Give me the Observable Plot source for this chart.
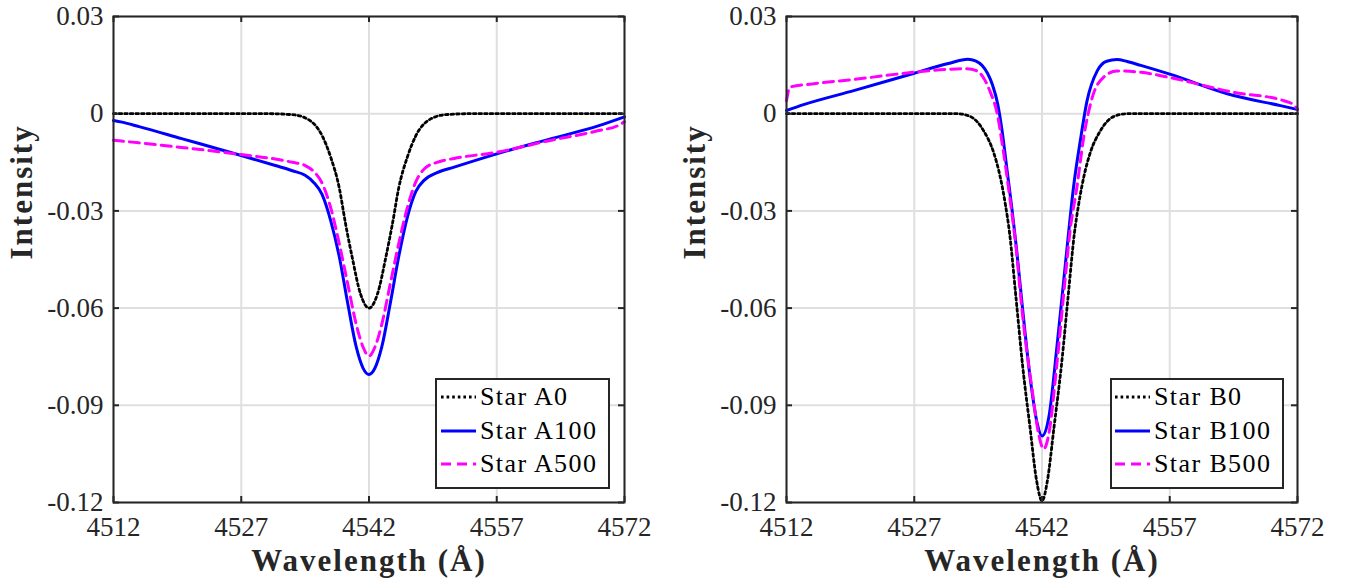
<!DOCTYPE html>
<html><head><meta charset="utf-8">
<script src="https://cdn.jsdelivr.net/npm/d3@7"></script>
<script src="https://cdn.jsdelivr.net/npm/@observablehq/plot@0.6"></script>
<style>
body{margin:0;background:#fff;}
#wrap{position:relative;width:1352px;height:583px;overflow:hidden;font-family:"Liberation Serif",serif;background:#fff;}
#wrap svg, #wrap svg text{font-family:"Liberation Serif",serif !important;}
.panel{position:absolute;top:0;}
.legend{position:absolute;background:#fff;border:2px solid #262626;box-sizing:border-box;font-size:26px;color:#000;font-family:"Liberation Serif",serif;}
.legend .row{position:absolute;left:0;height:34px;line-height:34px;white-space:nowrap;}
.legend svg{position:absolute;top:0;}
.legend span{position:absolute;top:0;letter-spacing:1.4px;}
</style></head><body><div id="wrap"></div><script>
const xTicks = [4512, 4527, 4542, 4557, 4572];
const yTicks = [-0.12, -0.09, -0.06, -0.03, 0, 0.03];

const wA0 = [4512, 4520, 4530, 4533, 4535, 4536.5, 4537.5, 4538.5, 4539.25, 4540, 4541, 4542, 4543, 4544, 4544.75, 4545.5, 4546.5, 4547.5, 4549, 4551, 4554, 4564, 4572];
const A0 = [0, 0, 0, -0.0003, -0.002, -0.0068, -0.0134, -0.0228, -0.034, -0.044, -0.0556, -0.060, -0.0556, -0.044, -0.034, -0.0228, -0.0134, -0.0068, -0.002, -0.0003, 0, 0, 0];

const wA100 = [4512, 4513, 4515, 4520, 4527, 4531, 4533, 4534.5, 4535.5, 4536.5, 4537.5, 4538.5, 4539.5, 4540.5, 4541.3, 4542, 4542.7, 4543.5, 4544.5, 4545.5, 4546.5, 4547.5, 4548.5, 4550, 4552, 4557, 4563, 4569, 4572];
const A100 = [-0.0021, -0.0026, -0.0040, -0.0077, -0.0129, -0.0160, -0.0176, -0.0190, -0.0212, -0.0250, -0.0330, -0.0440, -0.0585, -0.0720, -0.0785, -0.0805, -0.0785, -0.0720, -0.0585, -0.0440, -0.0320, -0.0240, -0.0205, -0.0182, -0.0165, -0.0124, -0.0080, -0.0037, -0.0010];

const wA500 = [4512, 4515, 4520, 4527, 4531, 4533, 4534.5, 4535.5, 4536.5, 4537.5, 4538.5, 4539.5, 4540.5, 4541.3, 4542, 4542.7, 4543.5, 4544.5, 4545.5, 4546.5, 4547.5, 4548.5, 4550, 4552, 4557, 4563, 4569, 4571.2, 4572];
const A500 = [-0.0082, -0.0090, -0.0104, -0.0126, -0.0140, -0.0150, -0.0160, -0.0178, -0.0215, -0.0290, -0.0400, -0.0525, -0.0650, -0.0720, -0.0748, -0.0720, -0.0650, -0.0525, -0.0400, -0.0290, -0.0210, -0.0170, -0.0150, -0.0138, -0.0119, -0.0084, -0.0052, -0.0037, -0.0025];

const wB0 = [4512, 4525, 4532, 4533.6, 4535.2, 4536.3, 4537.1, 4537.7, 4538.2, 4538.9, 4539.7, 4540.6, 4541.35, 4542, 4542.65, 4543.4, 4544.3, 4545.1, 4545.8, 4546.3, 4546.9, 4547.7, 4548.8, 4550.4, 4552, 4560, 4572];
const B0 = [0, 0, 0, -0.0009, -0.0055, -0.0118, -0.0196, -0.0280, -0.0370, -0.0555, -0.0772, -0.0970, -0.1130, -0.1195, -0.1130, -0.0970, -0.0772, -0.0555, -0.0370, -0.0280, -0.0196, -0.0118, -0.0055, -0.0009, 0, 0, 0];

const wB100 = [4512, 4514, 4520, 4527, 4531, 4533.3, 4534.2, 4535, 4535.6, 4536.2, 4536.8, 4537.3, 4537.9, 4538.5, 4539, 4539.7, 4540.65, 4541.45, 4542, 4542.8, 4543.75, 4544.55, 4545.15, 4545.7, 4546.5, 4547.3, 4548.5, 4549.6, 4550.8, 4552, 4553.6, 4557, 4564.5, 4570, 4572];
const B100 = [0.0010, 0.0028, 0.0072, 0.0125, 0.0155, 0.0168, 0.0163, 0.0148, 0.0125, 0.0088, 0.0030, -0.0050, -0.0175, -0.0300, -0.0415, -0.0597, -0.0823, -0.0957, -0.0995, -0.0937, -0.0720, -0.0515, -0.0360, -0.0227, -0.0083, 0.0041, 0.0133, 0.0162, 0.0167, 0.0161, 0.0149, 0.0122, 0.0056, 0.0025, 0.0013];

const wB500 = [4512, 4512.4, 4515, 4520, 4527, 4531, 4533.2, 4534.3, 4535.2, 4536, 4536.7, 4537.4, 4538.2, 4538.9, 4539.7, 4540.85, 4541.6, 4542.2, 4542.8, 4543.75, 4544.7, 4545.3, 4546.1, 4546.9, 4547.9, 4549.25, 4550.8, 4553.6, 4557.1, 4564.5, 4570.4, 4571.4, 4572];
const B500 = [0.0040, 0.0082, 0.0092, 0.0106, 0.0128, 0.0137, 0.0139, 0.0133, 0.0108, 0.0062, 0.0005, -0.0105, -0.0255, -0.0400, -0.0618, -0.0854, -0.0988, -0.1035, -0.0988, -0.0772, -0.0515, -0.0360, -0.0227, -0.0073, 0.0050, 0.0113, 0.0132, 0.0128, 0.0111, 0.0066, 0.0040, 0.0030, 0.0015];

const namesA = ["Star A0", "Star A100", "Star A500"];
const namesB = ["Star B0", "Star B100", "Star B500"];
const colors = ["#000000", "#0000ff", "#ff00ff"];
const dashes = ["2.6,3", null, "10,6"];

const wrap = document.getElementById("wrap");

function makePanel(left, ml, mr, ws, vs, names, legendBox) {
  const W = 676, H = 583, mt = 16, mb = 81;
  const pw = W - ml - mr, ph = H - mt - mb;
  const dark = "#262626";
  const marks = [
    Plot.gridX(xTicks, {stroke: "#dfdfdf", strokeOpacity: 1, strokeWidth: 2}),
    Plot.gridY(yTicks, {stroke: "#dfdfdf", strokeOpacity: 1, strokeWidth: 2}),
    ...ws.map((w, k) => Plot.line(w.map((x, i) => ({w: x, v: vs[k][i]})), {
      x: "w", y: "v", stroke: colors[k], strokeWidth: k === 0 ? 2.8 : 3,
      strokeDasharray: dashes[k], curve: "monotone-x"
    })),
    Plot.frame({stroke: dark, strokeWidth: 2}),
    Plot.tickX(xTicks, {x: d => d, insetTop: ph - 6, stroke: dark, strokeWidth: 2}),
    Plot.tickX(xTicks, {x: d => d, insetBottom: ph - 6, stroke: dark, strokeWidth: 2}),
    Plot.tickY(yTicks, {y: d => d, insetRight: pw - 6, stroke: dark, strokeWidth: 2}),
    Plot.tickY(yTicks, {y: d => d, insetLeft: pw - 6, stroke: dark, strokeWidth: 2}),
    Plot.axisX(xTicks, {tickSize: 0, tickPadding: 14, tickFormat: d => String(d), label: null}),
    Plot.axisY(yTicks, {tickSize: 0, tickPadding: 10, tickFormat: d => d === 0 ? "0" : d.toFixed(2), label: null}),
    Plot.text(["Wavelength (Å)"], {text: d => d, frameAnchor: "bottom", dy: 59, lineAnchor: "middle", fontWeight: "bold", fontSize: 31, fill: dark}),
    Plot.text(["Intensity"], {text: d => d, frameAnchor: "left", dx: -91, rotate: -90, fontWeight: "bold", fontSize: 31, fill: dark})
  ];
  const svg = Plot.plot({
    width: W, height: H, marginLeft: ml, marginRight: mr, marginTop: mt, marginBottom: mb,
    x: {domain: [4512, 4572]},
    y: {domain: [-0.12, 0.03]},
    style: {fontFamily: "Liberation Serif, serif", fontSize: "27px", color: dark, background: "transparent", overflow: "visible"},
    marks
  });
  d3.select(svg).attr("font-family", "Liberation Serif, serif");
  d3.select(svg).selectAll("text").filter(function() {
    return this.textContent === "Wavelength (Å)" || this.textContent === "Intensity";
  }).attr("letter-spacing", "2px");
  svg.classList.add("panel");
  svg.style.left = left + "px";
  wrap.appendChild(svg);

  const lg = document.createElement("div");
  lg.className = "legend";
  lg.style.left = legendBox.x + "px";
  lg.style.top = legendBox.y + "px";
  lg.style.width = legendBox.w + "px";
  lg.style.height = legendBox.h + "px";
  const rowCenters = [19, 53, 86];
  names.forEach((n, k) => {
    const row = document.createElement("div");
    row.className = "row";
    row.style.top = (rowCenters[k] - 17 - 2) + "px";
    row.style.width = "100%";
    const ns = "http://www.w3.org/2000/svg";
    const s = document.createElementNS(ns, "svg");
    s.setAttribute("width", 40); s.setAttribute("height", 34);
    s.style.left = legendBox.sx + "px";
    const ln = document.createElementNS(ns, "line");
    ln.setAttribute("x1", 0); ln.setAttribute("x2", 35);
    ln.setAttribute("y1", 17); ln.setAttribute("y2", 17);
    ln.setAttribute("stroke", colors[k]); ln.setAttribute("stroke-width", k === 0 ? 2.8 : 3);
    if (dashes[k]) ln.setAttribute("stroke-dasharray", dashes[k]);
    s.appendChild(ln);
    row.appendChild(s);
    const t = document.createElement("span");
    t.textContent = n;
    t.style.left = legendBox.tx + "px";
    row.appendChild(t);
    lg.appendChild(row);
  });
  wrap.appendChild(lg);
}

makePanel(0, 113, 52, [wA0, wA100, wA500], [A0, A100, A500], namesA, {x: 435, y: 378, w: 175, h: 111, sx: 4, tx: 43});
makePanel(676, 110, 55, [wB0, wB100, wB500], [B0, B100, B500], namesB, {x: 1110, y: 378, w: 174, h: 111, sx: 3, tx: 42});
</script></body></html>
